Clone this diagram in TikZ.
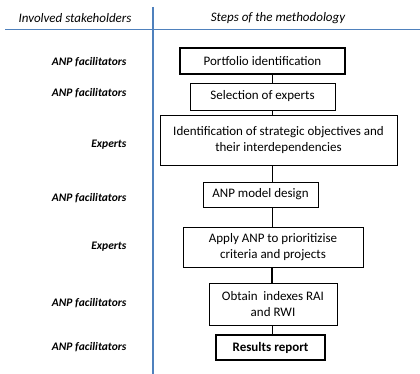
\documentclass[tikz,border=0pt]{standalone}
\usepackage{fontspec}
\setmainfont{Carlito}
\usepackage{tikz}
\usetikzlibrary{positioning}
\definecolor{lineblue}{RGB}{79,129,189}

\begin{document}
\begin{tikzpicture}[x=1pt, y=-1pt]
		\tikzstyle{stepbox}=[rectangle, draw=black, line width=0.9pt, inner sep=2pt, align=center, font=\fontsize{13}{16}\selectfont]
		\tikzstyle{keybox}=[stepbox, line width=2pt]
		\tikzstyle{actor}=[anchor=east, font=\fontsize{11.5}{13}\selectfont\bfseries\itshape]
		\tikzstyle{head}=[font=\fontsize{13}{15}\selectfont\itshape]
		\useasboundingbox (0,0) rectangle (420,374);

		% headers and separating lines
		\node[head] (h1) at (75,18) {Involved stakeholders};
		\node[head] (h2) at (278,18) {Steps of the methodology};
		\draw[lineblue, line width=1pt] (5,30) -- (420,30);
		\draw[lineblue, line width=1.4pt] (153,7) -- (153,374);

		% steps
		\node[keybox, minimum width=165, minimum height=26] (b1) at (262.5,61) {Portfolio identification};
		\node[stepbox, minimum width=145, minimum height=27] (b2) at (262.5,96.5) {Selection of experts};
		\node[stepbox, minimum width=237, minimum height=50] (b3) at (278.5,140) {Identification of strategic objectives and\\their interdependencies};
		\node[stepbox, minimum width=115, minimum height=25] (b4) at (260.5,194.5) {ANP model design};
		\node[stepbox, minimum width=180, minimum height=40] (b5) at (273,247) {Apply ANP to prioritizise\\criteria and projects};
		\node[stepbox, minimum width=128, minimum height=42] (b6) at (273,304) {Obtain\ \ indexes RAI\\and RWI};
		\node[keybox, minimum width=109, minimum height=25, font=\fontsize{13}{15}\selectfont\bfseries] (b7) at (270.5,347.5) {Results report};

		% stakeholders
		\node[actor] (s1) at (130,62) {ANP facilitators};
		\node[actor] (s2) at (130,93) {ANP facilitators};
		\node[actor] (s3) at (130,145) {Experts};
		\node[actor] (s4) at (130,198) {ANP facilitators};
		\node[actor] (s5) at (130,247) {Experts};
		\node[actor] (s6) at (130,303) {ANP facilitators};
		\node[actor] (s7) at (130,347) {ANP facilitators};

		% connectors
		\coordinate (spine) at (272,0);
		\draw[line width=0.9pt] (b1.south -| spine) -- (b2.north -| spine);
		\draw[line width=0.9pt] (b2.south -| spine) -- (b3.north -| spine);
		\draw[line width=0.9pt] (b3.south -| spine) -- (b4.north -| spine);
		\draw[line width=0.9pt] (b4.south -| spine) -- (b5.north -| spine);
		\draw[line width=1.2pt] (b5.south -| spine) -- (b6.north -| spine);
		\draw[line width=0.6pt] (b6.south -| spine) -- (b7.north -| spine);
	\end{tikzpicture}
\end{document}
